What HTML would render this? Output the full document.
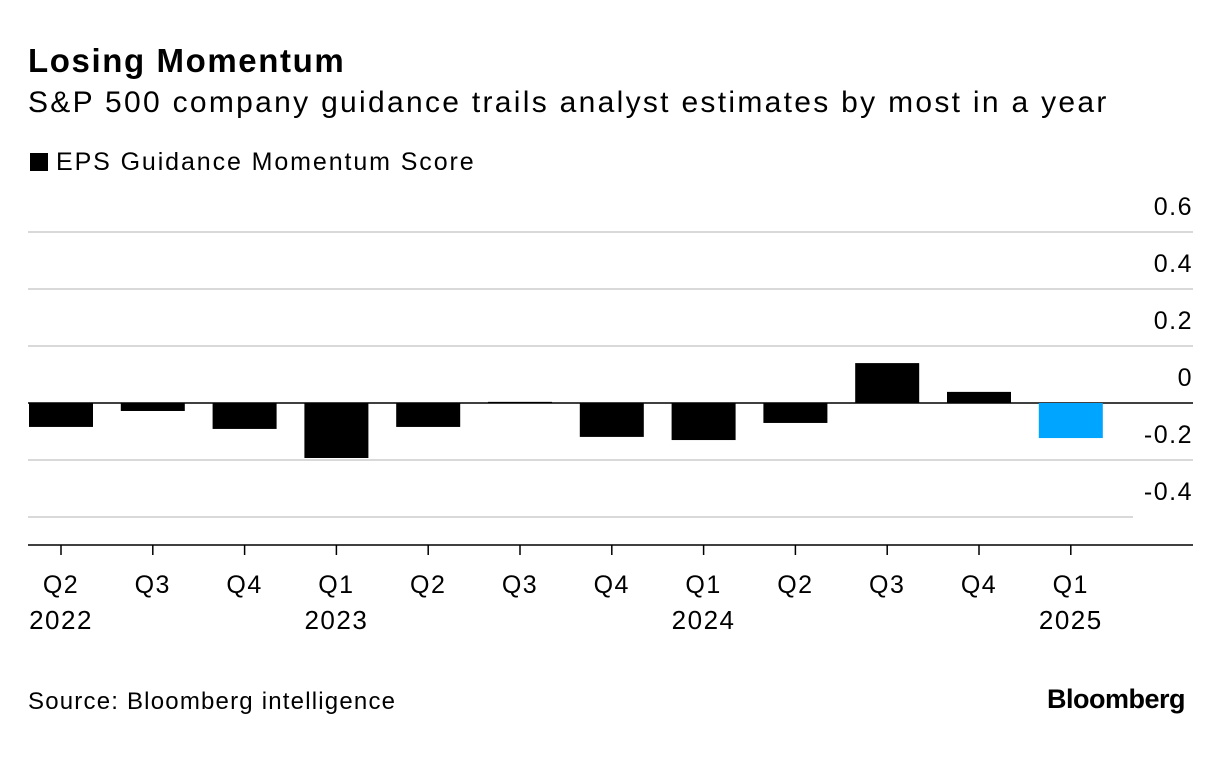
<!DOCTYPE html>
<html><head><meta charset="utf-8">
<style>
body{margin:0;background:#fff;font-family:"Liberation Sans",sans-serif;color:#000}
#wrap{position:relative;width:1223px;height:760px;overflow:hidden}
.t{position:absolute;white-space:nowrap}
</style></head><body>
<div id="wrap">
<div class="t" style="left:28px;top:42px;font-size:33px;font-weight:bold;letter-spacing:1.6px">Losing Momentum</div>
<div class="t" style="left:28px;top:86px;font-size:30px;letter-spacing:2.3px">S&amp;P 500 company guidance trails analyst estimates by most in a year</div>
<div class="t" style="left:30px;top:148px;font-size:25px;letter-spacing:1.9px"><span style="display:inline-block;width:18px;height:18px;background:#000;margin-right:8px;vertical-align:-1px"></span>EPS Guidance Momentum Score</div>
<svg id="chart" width="1223" height="760" style="position:absolute;left:0;top:0"></svg>
<div class="t" style="left:28px;top:688px;font-size:24px;letter-spacing:1.2px">Source: Bloomberg intelligence</div>
<div class="t" style="right:38px;top:684px;font-size:27px;font-weight:bold;letter-spacing:-0.5px">Bloomberg</div>
</div>
<script>
const quarters=["Q2","Q3","Q4","Q1","Q2","Q3","Q4","Q1","Q2","Q3","Q4","Q1"];
const years=["2022","","","2023","","","","2024","","","","2025"];
const values=[-0.084,-0.028,-0.091,-0.193,-0.084,0.004,-0.119,-0.13,-0.07,0.14,0.039,-0.123];
const yTicks=[0.6,0.4,0.2,0,-0.2,-0.4];
const yTickLabels=["0.6","0.4","0.2","0","-0.2","-0.4"];
const NS="http://www.w3.org/2000/svg";
const svg=document.getElementById('chart');
const y=v=>403-v*285;
const x0=61,step=91.8,bw=64;
const x=i=>x0+i*step;
function mk(t,a){const e=document.createElementNS(NS,t);for(const k in a)e.setAttribute(k,a[k]);svg.appendChild(e);return e;}
yTicks.forEach((v,i)=>{
  const g=mk('line',{x1:28,x2:v===-0.4?1133:1193,y1:y(v),y2:y(v),stroke:v===0?'#000':'#d9d9d9','stroke-width':v===0?1.5:2});
  
  
  const t=mk('text',{x:1193,y:y(v)-17,'text-anchor':'end','font-size':25,'letter-spacing':1.5,'font-family':'Liberation Sans, sans-serif'});
  t.textContent=yTickLabels[i];
  
  
});
values.forEach((v,i)=>{
  const top=Math.min(y(v),y(0)),h=Math.max(Math.abs(y(v)-y(0)),1);
  const r=mk('rect',{x:x(i)-bw/2,y:top,width:bw,height:h,fill:i===values.length-1?'#00a5ff':'#000'});
  
  
  const tk=mk('line',{x1:x(i),x2:x(i),y1:545,y2:555,stroke:'#000','stroke-width':1.5});
  
  
  const q=mk('text',{x:x(i),y:593,'text-anchor':'middle','font-size':25,'letter-spacing':1.5,'font-family':'Liberation Sans, sans-serif'});
  q.textContent=quarters[i];
  
  
  if(years[i]){
    const yr=mk('text',{x:x(i),y:629,'text-anchor':'middle','font-size':26,'letter-spacing':1.5,'font-family':'Liberation Sans, sans-serif'});
    yr.textContent=years[i];
    
    
  }
});
const ax=mk('line',{x1:28,x2:1193,y1:545,y2:545,stroke:'#000','stroke-width':1.5});


</script>
</body></html>
